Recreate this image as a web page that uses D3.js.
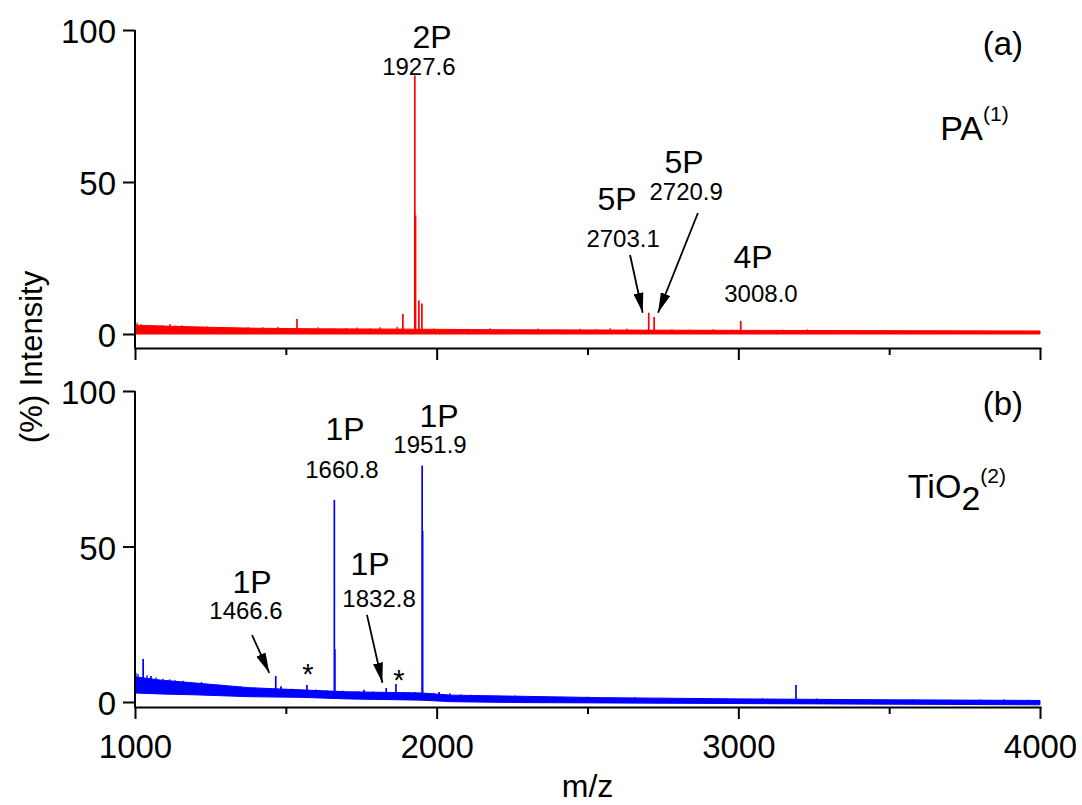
<!DOCTYPE html>
<html>
<head>
<meta charset="utf-8">
<script src="https://cdn.jsdelivr.net/npm/d3@7"></script>
<style>
  html, body { margin: 0; padding: 0; background: #fff; }
  svg { display: block; font-family: Arial, 'Liberation Sans', sans-serif; }
</style>
</head>
<body>
<div id="chart"></div>
<script>
// m/z axis
const MZ_DOMAIN = [1000, 4000];
const MZ_MAJOR = [1000, 2000, 3000, 4000];
const MZ_MINOR = [1500, 2500, 3500];
const INT_TICKS = [0, 50, 100];

// (a) PA enrichment
// baseline noise band: [m/z, low %, high %]
const paBand = [
  [1000, 0, 2.9], [1100, 0, 2.6], [1250, 0, 2.2], [1400, 0, 1.9], [1600, 0, 1.7],
  [1900, 0, 1.6], [2200, 0, 1.4], [2600, 0, 1.3], [3000, 0, 1.2], [3500, 0, 1.1], [4000, 0, 1.0]
];
// small spikes on top of the noise: [m/z, %]
const paNoise = [
  [1007, 3.7], [1020, 3.2], [1033, 3.0], [1060, 2.9], [1090, 3.0], [1116, 3.3], [1135, 2.8],
  [1156, 2.9], [1180, 2.6], [1209, 2.4], [1240, 2.5], [1272, 2.2], [1310, 2.3], [1340, 2.0],
  [1375, 2.2], [1424, 2.2], [1474, 2.4], [1500, 2.0], [1570, 2.0], [1607, 2.2], [1660, 1.9],
  [1700, 2.0], [1736, 2.1], [1780, 1.9], [1812, 2.2], [1869, 2.4], [1990, 1.8], [2044, 1.6],
  [2100, 1.7], [2177, 1.9], [2250, 1.6], [2336, 1.8], [2400, 1.6], [2475, 1.7], [2530, 1.6],
  [2575, 1.9], [2631, 1.8], [2780, 1.6], [2840, 1.5], [2916, 1.6], [2980, 1.4], [3072, 1.3],
  [3150, 1.4], [3228, 1.6], [3248, 1.3], [3330, 1.3], [3420, 1.2], [3496, 1.3], [3560, 1.2],
  [3635, 1.2], [3700, 1.2], [3795, 1.3], [3867, 1.0], [3940, 1.1]
];
// peaks: [m/z, %]
const paPeaks = [
  [1537, 4.9], [1888, 6.6], [1927.6, 85], [1930, 39], [1941, 11], [1951, 10],
  [2703.1, 7.0], [2720.9, 5.6], [3008, 4.3]
];
const paLabels = [
  { tag: '2P', mass: '1927.6', tagAt: [1985, 94.1], massAt: [1941, 85.2] },
  { tag: '5P', mass: '2703.1', tagAt: [2598, 40.8], massAt: [2618, 28.6], arrow: [[2641, 26.0], [2683, 7.0]] },
  { tag: '5P', mass: '2720.9', tagAt: [2820, 53.0], massAt: [2827, 44.1], arrow: [[2866, 39.8], [2734, 7.0]] },
  { tag: '4P', mass: '3008.0', tagAt: [3049, 21.7], massAt: [3075, 10.5] }
];

// (b) TiO2 enrichment
const tiBand = [
  [1000, 2.9, 8.1], [1080, 2.6, 7.1], [1200, 2.3, 6.1], [1380, 1.7, 4.6], [1550, 1.5, 3.9],
  [1700, 1.0, 3.3], [1950, 0.6, 2.9], [2050, 0.1, 2.2], [2300, -0.2, 1.8], [2550, -0.3, 1.4],
  [3000, -0.5, 1.0], [3500, -0.7, 0.7], [4000, -0.9, 0.5]
];
const tiNoise = [
  [1003, 9.4], [1010, 9.0], [1040, 8.6], [1070, 7.9], [1093, 7.5], [1115, 7.3], [1133, 7.0],
  [1160, 6.8], [1220, 6.4], [1280, 5.6], [1315, 5.2], [1350, 5.0], [1400, 4.7], [1424, 4.5],
  [1520, 4.3], [1600, 4.0], [1636, 3.8], [1690, 3.6], [1740, 3.5], [1789, 3.4], [1910, 3.2],
  [1990, 3.0], [2044, 2.8], [2080, 2.5], [2114, 2.3], [2197, 2.0], [2260, 2.1], [2336, 1.8],
  [2420, 1.7], [2500, 1.7], [2580, 1.5], [2657, 1.5], [2750, 1.4], [2860, 1.3], [2962, 1.3],
  [3080, 1.2], [3260, 1.1], [3344, 1.0], [3450, 0.9], [3580, 0.9], [3700, 0.8], [3800, 0.8],
  [3881, 0.9], [3960, 0.7]
];
const tiPeaks = [
  [1027, 13.8], [1053, 8.4], [1189, 6.1], [1199, 6.1], [1239, 5.8], [1255, 5.5],
  [1466.6, 8.4], [1484, 5.1], [1570, 5.5], [1660.8, 65], [1662.5, 17], [1719, 3.2],
  [1759, 3.9], [1832.8, 4.5], [1865, 5.8], [1892, 3.2], [1928, 3.2], [1951.9, 76],
  [1953.5, 55], [2008, 3.2], [3191, 5.5]
];
const tiLabels = [
  { tag: '1P', mass: '1466.6', tagAt: [1388, 35.0], massAt: [1368, 26.7], arrow: [[1388, 21.5], [1445, 9.4]] },
  { tag: '1P', mass: '1660.8', tagAt: [1696, 84.2], massAt: [1686, 72.0] },
  { tag: '1P', mass: '1832.8', tagAt: [1779, 40.8], massAt: [1809, 30.5], arrow: [[1769, 28.0], [1820, 6.2]] },
  { tag: '1P', mass: '1951.9', tagAt: [2008, 88.4], massAt: [1978, 80.1] }
];
const tiStars = [[1573, 5.8], [1875, 3.9]];

const width = 1082;
const height = 805;

const x = d3.scaleLinear().domain(MZ_DOMAIN).range([135, 1040]);

const panels = [
  {
    band: paBand, noise: paNoise, peaks: paPeaks, labels: paLabels, stars: [],
    color: '#ff0000', y0: 334, y100: 30, axisY: 348, tickLabels: false,
    letter: '(a)', letterAt: [3877, 91.8],
    name: 'PA', sub: null, sup: '(1)', nameAt: [3669, 63.8]
  },
  {
    band: tiBand, noise: tiNoise, peaks: tiPeaks, labels: tiLabels, stars: tiStars,
    color: '#0000ff', y0: 702, y100: 391, axisY: 707, tickLabels: true,
    letter: '(b)', letterAt: [3877, 92.3],
    name: 'TiO', sub: '2', sup: '(2)', nameAt: [3562, 65.6]
  }
];

// linear read of the band edge at a given m/z (k = 1 low, 2 high)
function bandAt(band, mz, k) {
  const i = d3.bisector(d => d[0]).right(band, mz);
  if (i <= 0) return band[0][k];
  if (i >= band.length) return band[band.length - 1][k];
  const a = band[i - 1], b = band[i];
  return a[k] + (b[k] - a[k]) * (mz - a[0]) / (b[0] - a[0]);
}

const svg = d3.select('#chart').append('svg')
  .attr('width', width)
  .attr('height', height);

svg.append('defs').append('marker')
  .attr('id', 'arrow')
  .attr('viewBox', '0 0 20 10')
  .attr('refX', 20)
  .attr('refY', 5)
  .attr('markerWidth', 20)
  .attr('markerHeight', 10)
  .attr('markerUnits', 'userSpaceOnUse')
  .attr('orient', 'auto')
  .append('path')
  .attr('d', 'M0,0L20,5L0,10Z')
  .attr('fill', '#000');

panels.forEach(p => {
  const y = d3.scaleLinear().domain([0, 100]).range([p.y0, p.y100]);
  const g = svg.append('g');

  // noise band
  const area = d3.area()
    .x(d => x(d[0]))
    .y0(d => y(d[1]))
    .y1(d => y(d[2]));
  g.append('path')
    .datum(p.band)
    .attr('d', area)
    .attr('fill', p.color)
    .attr('stroke', p.color)
    .attr('stroke-width', 1);

  // small spikes
  g.append('g').selectAll('line')
    .data(p.noise)
    .join('line')
    .attr('x1', d => x(d[0])).attr('x2', d => x(d[0]))
    .attr('y1', d => y(bandAt(p.band, d[0], 2)))
    .attr('y2', d => y(d[1]))
    .attr('stroke', p.color)
    .attr('stroke-width', 1.3);

  // peaks
  g.append('g').selectAll('line')
    .data(p.peaks)
    .join('line')
    .attr('x1', d => x(d[0])).attr('x2', d => x(d[0]))
    .attr('y1', d => y(bandAt(p.band, d[0], 1)))
    .attr('y2', d => y(d[1]))
    .attr('stroke', p.color)
    .attr('stroke-width', 1.7);

  // y axis
  const yAxis = g.append('g')
    .attr('transform', `translate(${x.range()[0]},0)`)
    .call(d3.axisLeft(y).tickValues(INT_TICKS).tickSize(12).tickPadding(7).tickSizeOuter(0));
  yAxis.select('.domain').remove();
  yAxis.append('line')
    .attr('y1', y(100)).attr('y2', p.axisY)
    .attr('stroke', '#000');
  yAxis.selectAll('line').attr('stroke-width', 2);
  yAxis.selectAll('text')
    .attr('font-size', 33)
    .attr('font-family', 'Arial, Liberation Sans, sans-serif')
    .attr('fill', '#000')
    .attr('dy', '0.38em');

  // x axis: major and minor ticks
  const xAxis = g.append('g')
    .attr('transform', `translate(0,${p.axisY})`)
    .call(d3.axisBottom(x).tickValues(MZ_MAJOR).tickSize(12).tickPadding(16).tickSizeOuter(0)
      .tickFormat(p.tickLabels ? d3.format('d') : () => ''));
  xAxis.select('.domain').attr('stroke-width', 2).attr('stroke-linecap', 'square');
  xAxis.selectAll('line').attr('stroke-width', 2);
  xAxis.selectAll('text')
    .attr('font-size', 33)
    .attr('font-family', 'Arial, Liberation Sans, sans-serif')
    .attr('fill', '#000');

  const minor = g.append('g')
    .attr('transform', `translate(0,${p.axisY})`)
    .call(d3.axisBottom(x).tickValues(MZ_MINOR).tickSize(7).tickFormat(() => ''));
  minor.select('.domain').remove();
  minor.selectAll('line').attr('stroke-width', 2);

  // peak annotations
  const ann = g.append('g').attr('fill', '#000').attr('text-anchor', 'middle');
  p.labels.forEach(l => {
    ann.append('text')
      .attr('x', x(l.tagAt[0])).attr('y', y(l.tagAt[1]))
      .attr('font-size', 32)
      .text(l.tag);
    ann.append('text')
      .attr('x', x(l.massAt[0])).attr('y', y(l.massAt[1]))
      .attr('font-size', 24)
      .text(l.mass);
    if (l.arrow) {
      ann.append('line')
        .attr('x1', x(l.arrow[0][0])).attr('y1', y(l.arrow[0][1]))
        .attr('x2', x(l.arrow[1][0])).attr('y2', y(l.arrow[1][1]))
        .attr('stroke', '#000')
        .attr('stroke-width', 1.8)
        .attr('marker-end', 'url(#arrow)');
    }
  });
  ann.selectAll(null)
    .data(p.stars)
    .join('text')
    .attr('x', d => x(d[0])).attr('y', d => y(d[1]))
    .attr('font-size', 29)
    .text('*');

  // panel letter and enrichment method
  g.append('text')
    .attr('x', x(p.letterAt[0])).attr('y', y(p.letterAt[1]))
    .attr('text-anchor', 'middle')
    .attr('font-size', 33)
    .text(p.letter);

  const name = g.append('text')
    .attr('x', x(p.nameAt[0])).attr('y', y(p.nameAt[1]))
    .attr('font-size', 34);
  name.append('tspan').text(p.name);
  if (p.sub) {
    name.append('tspan').attr('dy', 12).text(p.sub);
    name.append('tspan').attr('dy', -27).attr('font-size', 21).text(p.sup);
  } else {
    name.append('tspan').attr('dy', -19).attr('font-size', 21).text(p.sup);
  }
});

// axis titles
svg.append('text')
  .attr('x', (x.range()[0] + x.range()[1]) / 2)
  .attr('y', 797)
  .attr('text-anchor', 'middle')
  .attr('font-size', 32)
  .text('m/z');

svg.append('text')
  .attr('transform', 'translate(42,357) rotate(-90)')
  .attr('text-anchor', 'middle')
  .attr('font-size', 31)
  .text('(%) Intensity');
</script>
</body>
</html>
